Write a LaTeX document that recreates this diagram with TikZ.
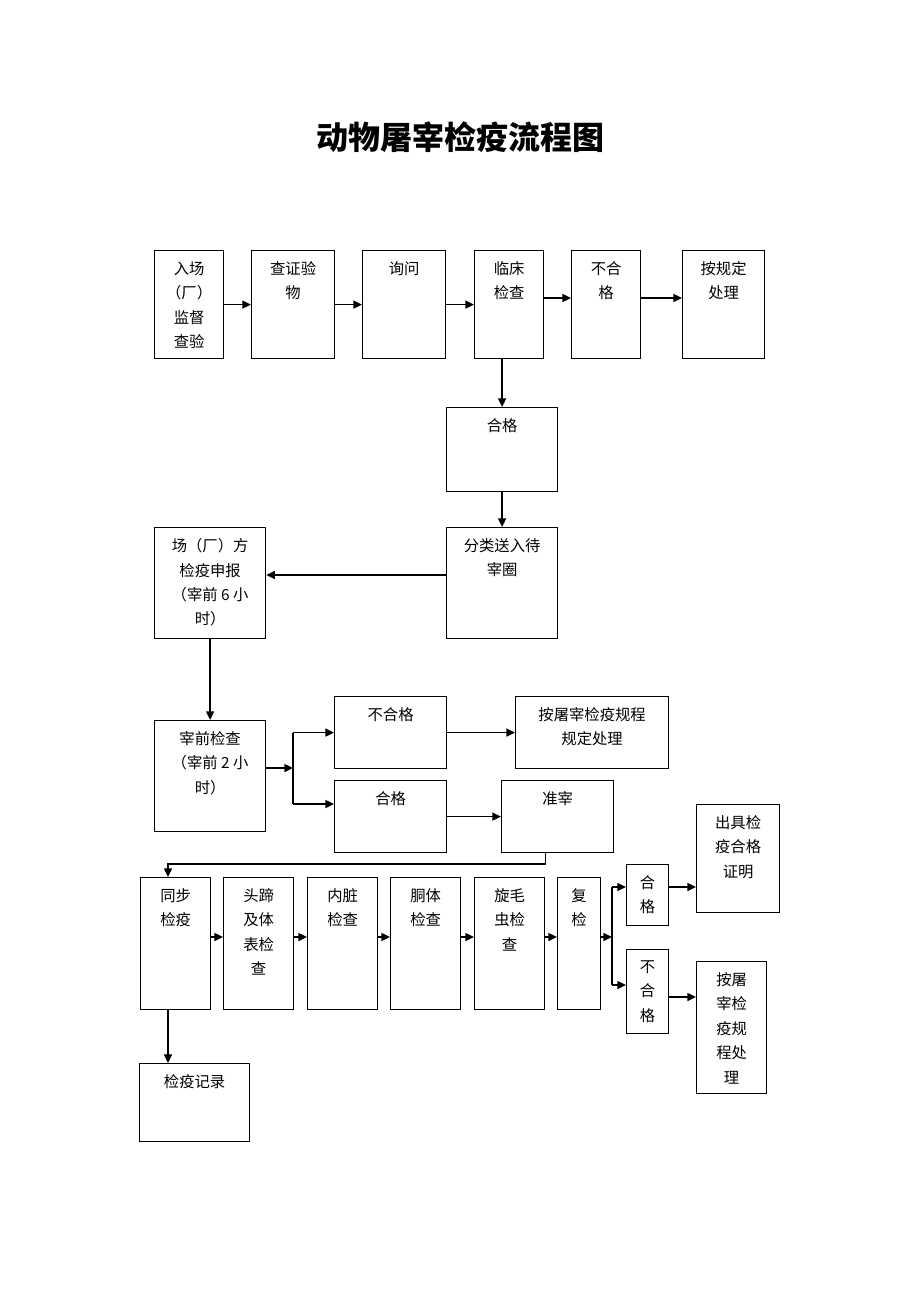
\documentclass[tikz,border=0pt]{standalone}
\usepackage{fontspec}
\setmainfont{Noto Sans CJK SC}
\usepackage{tikz}
\usetikzlibrary{arrows.meta,calc}
% box: name, top-left x, top-left y, width, height, text (in px)
\def\flowbox(#1)(#2,#3)(#4,#5)#6{\node[boxnode, minimum width=#4*0.75pt, minimum height=#5*0.75pt, label={[boxtext]north:#6}] (#1) at (#2,#3) {};}

\begin{document}
\begin{tikzpicture}[x=0.75pt, y=-0.75pt,
		boxnode/.style={draw, line width=0.9pt, anchor=north west, inner sep=0pt},
		boxtext/.style={anchor=north, align=center, inner sep=0pt, yshift=-8.5pt, font=\fontsize{11.5}{18.3}\selectfont},
		arr/.style={line width=1pt, -{Triangle[length=6.5pt, width=6pt]}}]
		%%%%% START %%%%%
		\useasboundingbox (0,0) rectangle (920,1302);
		
		\node[font=\fontsize{24}{28}\selectfont\bfseries] (title) at (460,137) {动物屠宰检疫流程图};
		
		% first row
		\flowbox(ruchang)(154,250)(69,108){入场\\（厂）\\监督\\查验}
		\flowbox(chazheng)(251,250)(83,108){查证验\\物}
		\flowbox(xunwen)(362,250)(83,108){询问}
		\flowbox(linchuang)(474,250)(69,108){临床\\检查}
		\flowbox(buhege1)(571,250)(69,108){不合\\格}
		\flowbox(anguiding)(682,250)(82,108){按规定\\处理}
		
		\draw[arr] (ruchang) -- (chazheng);
		\draw[arr] (chazheng) -- (xunwen);
		\draw[arr] (xunwen) -- (linchuang);
		\draw[arr] (linchuang.east |- 0,298) -- (buhege1.west |- 0,298);
		\draw[arr] (buhege1.east |- 0,298) -- (anguiding.west |- 0,298);
		
		% holding pens
		\flowbox(hege1)(446,407)(111,84){合格}
		\flowbox(fenlei)(446,527)(111,111){分类送入待\\宰圈}
		\flowbox(shenbao)(154,527)(111,111){场（厂）方\\检疫申报\\（宰前 6 小\\时）}
		\flowbox(zaiqian)(154,720)(111,111){宰前检查\\（宰前 2 小\\时）}
		
		\draw[arr] (linchuang.south -| hege1) -- (hege1.north);
		\draw[arr] (hege1) -- (fenlei);
		\draw[arr] (fenlei.west |- 0,575) -- (shenbao.east |- 0,575);
		\draw[arr] (shenbao) -- (zaiqian);
		
		% ante-mortem result
		\flowbox(buhege2)(334,696)(112,72){不合格}
		\flowbox(chuli2)(515,696)(153,72){按屠宰检疫规程\\规定处理}
		\flowbox(hege2)(334,780)(112,72){合格}
		\flowbox(zhunzai)(501,780)(112,72){准宰}
		
		\coordinate (fork1) at (293,768);
		\draw[arr] (zaiqian.east |- fork1) -- (fork1);
		\draw[line width=1pt] (fork1 |- buhege2.west) -- (fork1 |- 0,804);
		\draw[arr] (fork1 |- buhege2.west) -- (buhege2.west);
		\draw[arr] (fork1 |- 0,804) -- (hege2.west |- 0,804);
		\draw[arr] (buhege2) -- (chuli2);
		\draw[arr] (hege2) -- (zhunzai);
		
		% slaughter line
		\flowbox(tongbu)(140,877)(70,132){同步\\检疫}
		\flowbox(titi)(223,877)(70,132){头蹄\\及体\\表检\\查}
		\flowbox(neizang)(307,877)(70,132){内脏\\检查}
		\flowbox(tongti)(390,877)(70,132){胴体\\检查}
		\flowbox(xuanmao)(474,877)(70,132){旋毛\\虫检\\查}
		\flowbox(fujian)(557,877)(43,132){复\\检}
		
		\coordinate (turn) at (168,864);
		\draw[arr] ([xshift=-9pt]zhunzai.south) |- (turn) -- (turn |- tongbu.north);
		\draw[arr] (tongbu.east |- 0,937) -- (titi.west |- 0,937);
		\draw[arr] (titi.east |- 0,937) -- (neizang.west |- 0,937);
		\draw[arr] (neizang.east |- 0,937) -- (tongti.west |- 0,937);
		\draw[arr] (tongti.east |- 0,937) -- (xuanmao.west |- 0,937);
		\draw[arr] (xuanmao.east |- 0,937) -- (fujian.west |- 0,937);
		
		% re-inspection
		\flowbox(hege3)(626,864)(42,61){合\\格}
		\flowbox(buhege3)(626,949)(42,84){不\\合\\格}
		\flowbox(zhengming)(696,804)(83,108){出具检\\疫合格\\证明}
		\flowbox(chuli3)(696,961)(70,132){按屠\\宰检\\疫规\\程处\\理}
		\flowbox(jilu)(139,1063)(110,78){检疫记录}
		
		\coordinate (fork2) at (612,937);
		\draw[arr] (fujian.east |- fork2) -- (fork2);
		\draw[line width=1pt] (fork2 |- 0,887) -- (fork2 |- 0,985);
		\draw[arr] (fork2 |- 0,887) -- (hege3.west |- 0,887);
		\draw[arr] (fork2 |- 0,985) -- (buhege3.west |- 0,985);
		\draw[arr] (hege3.east |- 0,887) -- (zhengming.west |- 0,887);
		\draw[arr] (buhege3.east |- 0,997) -- (chuli3.west |- 0,997);
		\draw[arr] (tongbu.south -| turn) -- (jilu.north -| turn);
		
		%%%%% END %%%%%
\end{tikzpicture}
\end{document}
